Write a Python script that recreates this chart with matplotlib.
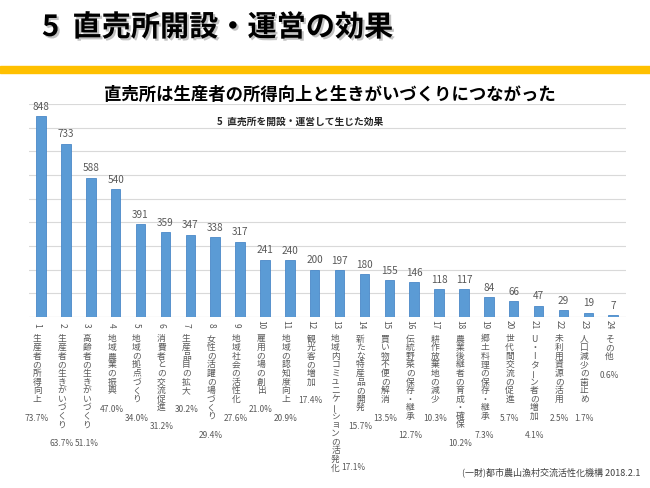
import matplotlib
matplotlib.use("Agg")
import matplotlib.pyplot as plt
import numpy as np
from matplotlib import patheffects
from matplotlib.patches import Rectangle

plt.rcParams['font.family'] = ['Noto Sans CJK JP', 'DejaVu Sans']

# **データ**
labels = ["生産者の所得向上", "生産者の生きがいづくり", "高齢者の生きがいづくり", "地域農業の振興",
          "地域の拠点づくり", "消費者との交流促進", "生産品目の拡大", "女性の活躍の場づくり",
          "地域社会の活性化", "雇用の場の創出", "地域の認知度向上", "観光客の増加",
          "地域内コミュニケーションの活発化", "新たな特産品の開発", "買い物不便の解消",
          "伝統野菜の保存・継承", "耕作放棄地の減少", "農業後継者の育成・確保", "郷土料理の保存・継承",
          "世代間交流の促進", "U・Iターン者の増加", "未利用資源の活用", "人口減少の歯止め", "その他"]
counts = [848, 733, 588, 540, 391, 359, 347, 338, 317, 241, 240, 200,
          197, 180, 155, 146, 118, 117, 84, 66, 47, 29, 19, 7]
percents = ["73.7%", "63.7%", "51.1%", "47.0%", "34.0%", "31.2%", "30.2%", "29.4%",
            "27.6%", "21.0%", "20.9%", "17.4%", "17.1%", "15.7%", "13.5%", "12.7%",
            "10.3%", "10.2%", "7.3%", "5.7%", "4.1%", "2.5%", "1.7%", "0.6%"]

bar_color = "#5B9BD5"
gray = "#595959"
PX = 0.72  # 1 px -> pt (dpi=100)

fig = plt.figure(figsize=(6.5, 4.88), dpi=100)

# タイトル
fig.text(42/650, 1-27/488, "5  直売所開設・運営の効果", fontsize=21, weight='bold',
         ha='left', va='center', color='black',
         path_effects=[patheffects.withSimplePatchShadow(offset=(1.5, -1.5), shadow_rgbFace='#888888', alpha=0.5)])
fig.patches.append(Rectangle((0, 1-73/488), 1, 7/488, transform=fig.transFigure,
                             color="#FFC000", zorder=0))
fig.text(330/650, 1-95/488, "直売所は生産者の所得向上と生きがいづくりにつながった",
         fontsize=12.5, weight='bold', ha='center', va='center')

ax = fig.add_axes([28.6/650, 1-317/488, 597/650, 213/488])
x = np.arange(1, len(counts) + 1)
ax.bar(x, counts, width=0.38, color=bar_color, edgecolor="#4A89C8", linewidth=0.6, zorder=3)
ax.set_xlim(0.5, 24.5)
ax.set_ylim(0, 900)
ax.set_yticks(np.arange(0, 901, 100))
ax.yaxis.grid(True, color="#D9D9D9", linewidth=0.8)
ax.set_axisbelow(True)
ax.tick_params(left=False, labelleft=False, bottom=False, labelbottom=False)
for s in ax.spines.values():
    s.set_visible(False)
ax.axhline(0, color="#D9D9D9", linewidth=0.8, zorder=2)

ax.text(0.455, 0.915, "5  直売所を開設・運営して生じた効果", transform=ax.transAxes,
        fontsize=7, weight='bold', ha='center', va='center', color='#262626')

# 値ラベル
for xi, v in zip(x, counts):
    ax.annotate(str(v), (xi, v), xytext=(0, 9.5*PX), textcoords='offset points',
                ha='center', va='center', fontsize=7.2, color=gray)

# 縦書きの項目ラベル
for xi, name, pct in zip(x, labels, percents):
    dx = -4 * PX
    kw = dict(xycoords=('data', 'axes fraction'), textcoords='offset points',
              ha='center', va='center', color=gray, annotation_clip=False)
    ax.annotate(str(xi), (xi, 0), xytext=(dx, -8*PX), rotation=-90, fontsize=6, **kw)
    for k, ch in enumerate(name):
        rot = 90 if ch == 'ー' else 0
        ax.annotate(ch, (xi, 0), xytext=(dx, -(22 + k*8.6)*PX), rotation=rot, fontsize=6.3, **kw)
    n = len(name)
    if n > 12:
        ax.annotate(pct, (xi, 0), xytext=(dx + 18*PX, -(22 + (n-1)*8.6)*PX), fontsize=6, **kw)
    else:
        ax.annotate(pct, (xi, 0), xytext=(dx, -(22 + (n+1.2)*8.6)*PX), fontsize=6, **kw)

fig.text(640/650, 1-472/488, "(一財)都市農山漁村交流活性化機構 2018.2.1", fontsize=6.5,
         ha='right', va='center', color='#404040')

fig.savefig("out.png", dpi=100)
